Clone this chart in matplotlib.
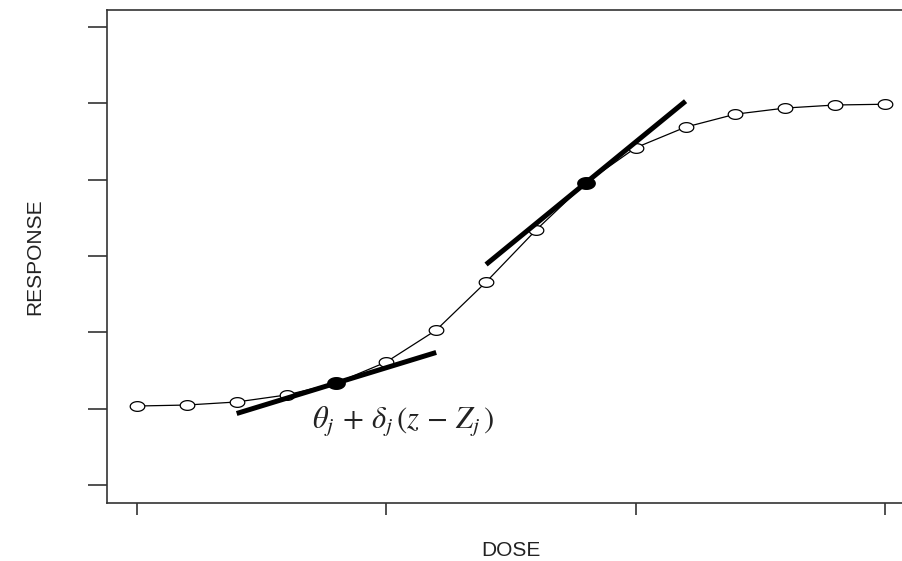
import numpy as np
import matplotlib
matplotlib.use("Agg")
import matplotlib.pyplot as plt
from matplotlib.path import Path

dose = np.arange(16)
response = [1.035, 1.048, 1.088, 1.18, 1.337, 1.612, 2.03, 2.66,
            3.34, 3.96, 4.42, 4.69, 4.86, 4.94, 4.98, 4.99]

# local linear approximations: centre dose, value at centre, slope
tan_centre = [4, 9]
tan_value = [1.337, 3.96]
tan_slope = [0.20, 0.535]
tan_half = 2.0

x_ticks = [0, 5, 10, 15]
y_ticks = [0, 1, 2, 3, 4, 5, 6]

plt.rcParams['mathtext.fontset'] = 'stix'

# slightly flattened circle, the original looks stretched sideways
t = np.linspace(0, 2 * np.pi, 60)
ellipse = Path(np.c_[1.5 * np.cos(t), np.sin(t)], closed=True)

fig = plt.figure(figsize=(9.03, 5.61), dpi=100)
ax = fig.add_axes([107 / 903, 1 - 503 / 561, 808 / 903, 493 / 561])

ax.plot(dose, response, color='black', lw=0.9, marker=ellipse, ms=10.5,
        mfc='white', mec='black', mew=0.9, zorder=3)

for c, v, s in zip(tan_centre, tan_value, tan_slope):
    xs = np.array([c - tan_half, c + tan_half])
    ax.plot(xs, v + s * (xs - c), color='black', lw=3.6,
            solid_capstyle='butt', zorder=4)
    ax.plot([c], [v], marker=ellipse, ms=12.5, color='black', zorder=5)

ax.text(3.52, 0.83, r'$\theta_{j}\,+\,\delta_{j}\,(z\,-\,Z_{j}\,)$', fontsize=22,
        ha='left', va='center', color='#222222')

ax.set_xlim(-0.6, 15.6)
ax.set_ylim(-0.236, 6.225)
ax.set_xticks(x_ticks)
ax.set_yticks(y_ticks)
ax.set_xticklabels([])
ax.set_yticklabels([])
ax.tick_params(axis='x', length=8.5, width=1.2, color='#333333')
ax.tick_params(axis='y', length=14, width=1.2, color='#333333')
for sp in ax.spines.values():
    sp.set_color('#333333')
    sp.set_linewidth(1.2)

ax.set_xlabel('DOSE', family='Liberation Sans', fontsize=15,
              color='#222222', labelpad=15)
ax.set_ylabel('RESPONSE', family='Liberation Sans', fontsize=15,
              color='#222222', labelpad=28)

fig.savefig('out.png', dpi=100)
